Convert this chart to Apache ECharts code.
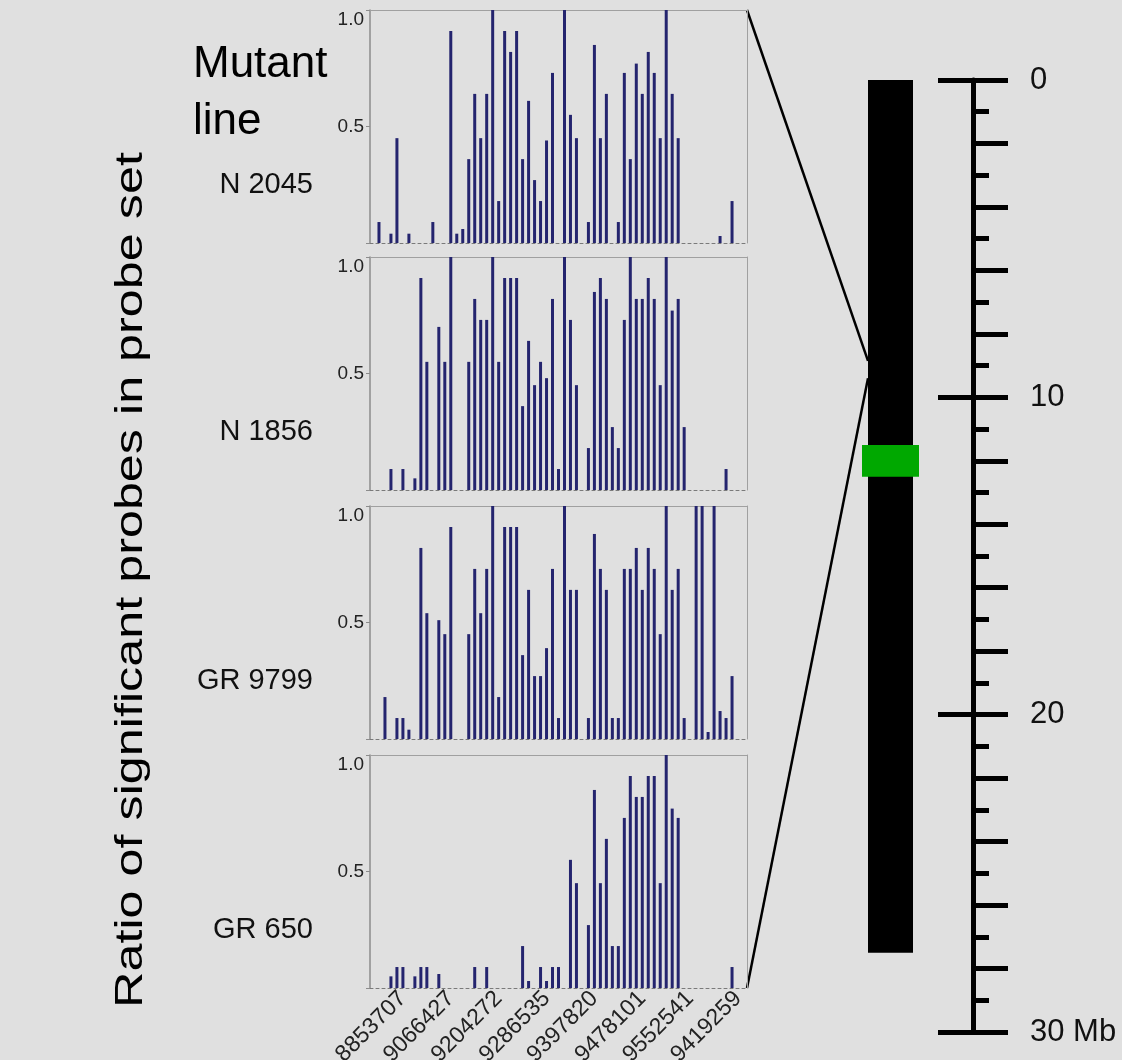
<!DOCTYPE html>
<html>
<head>
<meta charset="utf-8">
<script src="https://cdn.jsdelivr.net/npm/echarts@6/dist/echarts.min.js"></script>
<style>
  html, body { margin: 0; padding: 0; background: #e0e0e0; }
  #chart { width: 1122px; height: 1060px; }
</style>
</head>
<body>
<div id="chart"></div>
<script>
// 突变系名称
const mutantLines = ['N 2045', 'N 1856', 'GR 9799', 'GR 650'];

// 探针组坐标标签（每 8 个探针组显示一个，从第 5 个开始）
const probeLabels = ['8853707', '9066427', '9204272', '9286535', '9397820', '9478101', '9552541', '9419259'];
const labelStart = 5;
const labelStep = 8;

// 每个探针组中显著探针比例
const ratioN2045 = [
  0, 0.09, 0, 0.04, 0.45, 0, 0.04, 0, 0, 0,
  0.09, 0, 0, 0.91, 0.04, 0.06, 0.36, 0.64, 0.45, 0.64,
  1.0, 0.18, 0.91, 0.82, 0.91, 0.36, 0.61, 0.27, 0.18, 0.44,
  0.73, 0, 1.0, 0.55, 0.45, 0, 0.09, 0.85, 0.45, 0.64,
  0, 0.09, 0.73, 0.36, 0.77, 0.64, 0.82, 0.73, 0.45, 1.0,
  0.64, 0.45, 0, 0, 0, 0, 0, 0, 0.03, 0,
  0.18, 0, 0
];
const ratioN1856 = [
  0, 0, 0, 0.09, 0, 0.09, 0, 0.05, 0.91, 0.55,
  0, 0.70, 0.55, 1.0, 0, 0, 0.55, 0.82, 0.73, 0.73,
  1.0, 0.55, 0.91, 0.91, 0.91, 0.36, 0.64, 0.45, 0.55, 0.48,
  0.82, 0.09, 1.0, 0.73, 0.45, 0, 0.18, 0.85, 0.91, 0.82,
  0.27, 0.18, 0.73, 1.0, 0.82, 0.82, 0.91, 0.82, 0.45, 1.0,
  0.77, 0.82, 0.27, 0, 0, 0, 0, 0, 0, 0.09,
  0, 0, 0
];
const ratioGR9799 = [
  0, 0, 0.18, 0, 0.09, 0.09, 0.04, 0, 0.82, 0.54,
  0, 0.51, 0.45, 0.91, 0, 0, 0.45, 0.73, 0.54, 0.73,
  1.0, 0.18, 0.91, 0.91, 0.91, 0.36, 0.64, 0.27, 0.27, 0.39,
  0.73, 0.09, 1.0, 0.64, 0.64, 0, 0.09, 0.88, 0.73, 0.64,
  0.09, 0.09, 0.73, 0.73, 0.82, 0.64, 0.82, 0.73, 0.45, 1.0,
  0.64, 0.73, 0.09, 0, 1.0, 1.0, 0.03, 1.0, 0.12, 0.09,
  0.27, 0, 0
];
const ratioGR650 = [
  0, 0, 0, 0.05, 0.09, 0.09, 0, 0.05, 0.09, 0.09,
  0, 0.06, 0, 0, 0, 0, 0, 0.09, 0, 0.09,
  0, 0, 0, 0, 0, 0.18, 0.03, 0, 0.09, 0.03,
  0.09, 0.09, 0, 0.55, 0.45, 0, 0.27, 0.85, 0.45, 0.64,
  0.18, 0.18, 0.73, 0.91, 0.82, 0.82, 0.91, 0.91, 0.45, 1.0,
  0.77, 0.73, 0, 0, 0, 0, 0, 0, 0, 0,
  0.09, 0, 0
];
const panelData = [ratioN2045, ratioN1856, ratioGR9799, ratioGR650];

// 染色体 (Mb)
const chromosomeLength = 27.5;
const bandStart = 11.5;
const bandEnd = 12.5;
const regionStart = 8.85;
const regionEnd = 9.4;
const scaleMax = 30;

const probeIndex = ratioN2045.map((v, i) => String(i + 1));

// 布局
const font = 'Liberation Sans, Arial, sans-serif';
const panelLeft = 370;
const panelWidth = 377;
const panelTops = [10, 257, 506, 755];
const panelHeight = 233;
const chrTop = 80;
const chrHeight = 952;
const chrLeft = 862;
const chrWidth = 57;
const chrBarWidth = 45;
const scaleLeft = 973;

const myChart = echarts.init(document.getElementById('chart'));

let grid = [];
let xAxis = [];
let yAxis = [];
let series = [];

panelData.forEach((data, p) => {
  grid.push({
    left: panelLeft, top: panelTops[p], width: panelWidth, height: panelHeight,
    containLabel: false,
    outerBoundsMode: 'none'
  });
  // 底部分类轴
  xAxis.push({
    type: 'category',
    gridIndex: p,
    data: probeIndex,
    position: 'bottom',
    axisLine: {onZero: false, lineStyle: {color: '#7a7a7a', width: 1, type: [3, 3]}},
    axisTick: {show: false},
    axisLabel: {
      show: p === panelData.length - 1,
      interval: 0,
      rotate: 45,
      margin: 7,
      fontSize: 23,
      fontFamily: font,
      color: '#222',
      formatter: function (value, index) {
        if (index >= labelStart && (index - labelStart) % labelStep === 0) {
          return probeLabels[(index - labelStart) / labelStep] || '';
        }
        return '';
      }
    }
  });
  // 顶部边框
  xAxis.push({
    type: 'value',
    gridIndex: p,
    position: 'top',
    axisLine: {show: true, onZero: false, lineStyle: {color: '#a0a0a0', width: 1}},
    axisTick: {show: false},
    axisLabel: {show: false},
    splitLine: {show: false}
  });
  yAxis.push({
    type: 'value',
    gridIndex: p,
    min: 0,
    max: 1,
    interval: 0.5,
    position: 'left',
    axisLine: {show: true, onZero: false, lineStyle: {color: '#8c8c8c', width: 1.5}},
    axisTick: {show: true, length: 4, lineStyle: {color: '#8c8c8c'}},
    splitLine: {show: false},
    axisLabel: {
      margin: 6,
      fontSize: 19,
      fontFamily: font,
      color: '#222',
      verticalAlignMaxLabel: 'top',
      formatter: v => v === 0 ? '' : v.toFixed(1)
    }
  });
  // 右侧边框
  yAxis.push({
    type: 'value',
    gridIndex: p,
    position: 'right',
    axisLine: {show: true, onZero: false, lineStyle: {color: '#a0a0a0', width: 1}},
    axisTick: {show: false},
    axisLabel: {show: false},
    splitLine: {show: false}
  });
  series.push({
    type: 'bar',
    xAxisIndex: 2 * p,
    yAxisIndex: 2 * p,
    data: data,
    barWidth: 3,
    itemStyle: {color: '#24246e'}
  });
});

// 染色体
grid.push({left: chrLeft, top: chrTop, width: chrWidth, height: chrHeight, outerBoundsMode: 'none'});
xAxis.push({type: 'category', gridIndex: 4, data: ['chr'], show: false});
yAxis.push({type: 'value', gridIndex: 4, min: 0, max: scaleMax, inverse: true, show: false});
series.push({
  type: 'bar',
  xAxisIndex: 8,
  yAxisIndex: 8,
  data: [chromosomeLength],
  barWidth: chrBarWidth,
  itemStyle: {color: '#000'}
});
series.push({
  type: 'custom',
  xAxisIndex: 8,
  yAxisIndex: 8,
  z: 5,
  data: [['chr', bandStart, bandEnd]],
  encode: {x: 0, y: [1, 2]},
  renderItem: function (params, api) {
    const a = api.coord([api.value(0), api.value(1)]);
    const b = api.coord([api.value(0), api.value(2)]);
    const w = api.size([1, 0])[0];
    return {
      type: 'rect',
      shape: {x: a[0] - w / 2, y: a[1], width: w, height: b[1] - a[1]},
      style: {fill: '#00a800'}
    };
  }
});

// 比例尺：右侧刻度 + 标签
grid.push({left: scaleLeft, top: chrTop, width: 60, height: chrHeight, outerBoundsMode: 'none'});
xAxis.push({type: 'value', gridIndex: 5, show: false});
yAxis.push({
  type: 'value',
  gridIndex: 5,
  min: 0,
  max: scaleMax,
  interval: 2,
  inverse: true,
  position: 'left',
  axisLine: {show: true, onZero: false, lineStyle: {color: '#000', width: 5}},
  axisTick: {show: true, inside: true, length: 35, lineStyle: {color: '#000', width: 5}},
  minorTick: {show: true, splitNumber: 2, length: 16, lineStyle: {color: '#000', width: 5}},
  splitLine: {show: false},
  axisLabel: {
    inside: true,
    margin: 57,
    fontSize: 31,
    fontFamily: font,
    color: '#111',
    formatter: v => v % 10 !== 0 ? '' : (v === scaleMax ? v + ' Mb' : String(v))
  }
});
// 比例尺：主刻度左侧部分
grid.push({left: scaleLeft, top: chrTop, width: 60, height: chrHeight, outerBoundsMode: 'none'});
xAxis.push({type: 'value', gridIndex: 6, show: false});
yAxis.push({
  type: 'value',
  gridIndex: 6,
  min: 0,
  max: scaleMax,
  interval: 10,
  inverse: true,
  position: 'left',
  axisLine: {show: false, onZero: false},
  axisTick: {show: true, inside: false, length: 35, lineStyle: {color: '#000', width: 5}},
  axisLabel: {show: false},
  splitLine: {show: false}
});

myChart.setOption({
  animation: false,
  backgroundColor: '#e0e0e0',
  grid: grid,
  xAxis: xAxis,
  yAxis: yAxis,
  series: series
});

// 文字与连接线
const chrCenterX = myChart.convertToPixel({xAxisIndex: 8}, 'chr');
const chrEdgeX = chrCenterX - chrBarWidth / 2;
const apexTop = myChart.convertToPixel({yAxisIndex: 8}, regionStart);
const apexBottom = myChart.convertToPixel({yAxisIndex: 8}, regionEnd);
const panelRight = panelLeft + panelWidth;

let graphic = [
  {
    type: 'text',
    x: 131,
    y: 580,
    rotation: Math.PI / 2,
    scaleX: 1.29,
    style: {
      text: 'Ratio of significant probes in probe set',
      font: '39px ' + font,
      fill: '#000',
      textAlign: 'center',
      textVerticalAlign: 'middle'
    }
  },
  {
    type: 'text',
    x: 193,
    y: 36,
    style: {
      text: 'Mutant\nline',
      font: '44px ' + font,
      lineHeight: 57,
      fill: '#000',
      textAlign: 'left',
      textVerticalAlign: 'top'
    }
  },
  {
    type: 'line',
    shape: {x1: panelRight, y1: panelTops[0], x2: chrEdgeX, y2: apexTop},
    style: {stroke: '#000', lineWidth: 2.5}
  },
  {
    type: 'line',
    shape: {x1: panelRight, y1: panelTops[3] + panelHeight, x2: chrEdgeX, y2: apexBottom},
    style: {stroke: '#000', lineWidth: 2.5}
  }
];
mutantLines.forEach((name, p) => {
  graphic.push({
    type: 'text',
    x: 313,
    y: panelTops[p] + 175,
    style: {
      text: name,
      font: '29px ' + font,
      fill: '#111',
      textAlign: 'right',
      textVerticalAlign: 'middle'
    }
  });
});

myChart.setOption({graphic: graphic});
</script>
</body>
</html>
